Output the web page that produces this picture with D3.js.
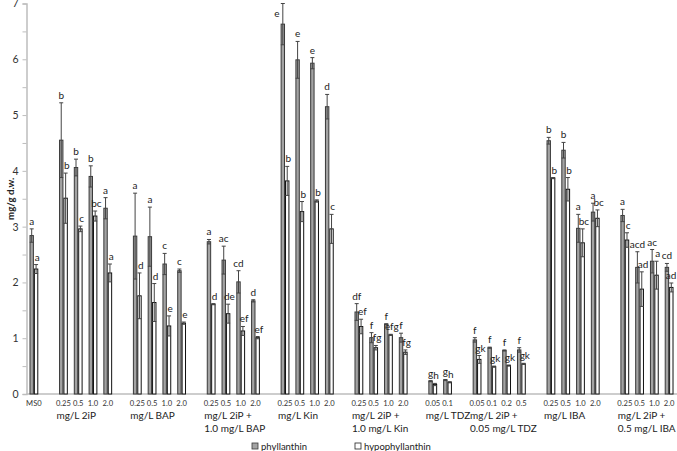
<!DOCTYPE html>
<html>
<head>
<meta charset="utf-8">
<script src="https://cdn.jsdelivr.net/npm/d3@7"></script>
<style>
  body { margin: 0; background: #fff; }
  text { font-family: Lato, "Open Sans", sans-serif; fill: #222; }
</style>
</head>
<body>
<svg id="chart" width="677" height="451"></svg>
<script>
// categories (empty strings are spacer slots between treatment groups)
const categories = ["MS0", "",
  "0.25", "0.5", "1.0", "2.0", "",
  "0.25", "0.5", "1.0", "2.0", "",
  "0.25", "0.5", "1.0", "2.0", "",
  "0.25", "0.5", "1.0", "2.0", "",
  "0.25", "0.5", "1.0", "2.0", "",
  "0.05", "0.1", "",
  "0.05", "0.1", "0.2", "0.5", "",
  "0.25", "0.5", "1.0", "2.0", "",
  "0.25", "0.5", "1.0", "2.0"];

const groupLabels = [
  {start: 2, lines: ["mg/L 2iP"]},
  {start: 7, lines: ["mg/L BAP"]},
  {start: 12, lines: ["mg/L 2iP +", "1.0 mg/L BAP"]},
  {start: 17, lines: ["mg/L Kin"]},
  {start: 22, lines: ["mg/L 2iP +", "1.0 mg/L Kin"]},
  {start: 27, lines: ["mg/L TDZ"]},
  {start: 30, lines: ["mg/L 2iP +", "0.05 mg/L TDZ"]},
  {start: 35, lines: ["mg/L IBA"]},
  {start: 40, lines: ["mg/L 2iP +", "0.5 mg/L IBA"]}
];

const seriesNames = ["phyllanthin", "hypophyllanthin"];

// null = spacer
const phyllanthin = [2.84, null,
  4.55, 4.06, 3.90, 3.33, null,
  2.83, 2.82, 2.33, 2.21, null,
  2.73, 2.40, 2.01, 1.67, null,
  6.63, 5.99, 5.93, 5.15, null,
  1.47, 1.01, 1.25, 1.01, null,
  0.23, 0.25, null,
  0.97, 0.83, 0.78, 0.79, null,
  4.54, 4.37, 2.97, 3.26, null,
  3.20, 2.27, 2.38, 2.27];
const phyllanthinErr = [0.12, null,
  0.67, 0.15, 0.19, 0.19, null,
  0.77, 0.53, 0.19, 0.03, null,
  0.04, 0.25, 0.20, 0.02, null,
  0.37, 0.33, 0.10, 0.22, null,
  0.15, 0.09, 0.01, 0.08, null,
  0.01, 0.01, null,
  0.04, 0.01, 0.01, 0.04, null,
  0.06, 0.14, 0.25, 0.16, null,
  0.11, 0.28, 0.21, 0.07];
const phyllanthinLetters = ["a", null,
  "b", "b", "b", "a", null,
  "a", "a", "c", "c", null,
  "a", "ac", "cd", "d", null,
  "e", "e", "e", "d", null,
  "df", "f", "f", "f", null,
  "g", "g", null,
  "f", "f", "f", "f", null,
  "b", "b", "a", "a", null,
  "a", "acd", "ac", "cd"];

const hypophyllanthin = [2.24, null,
  3.51, 2.96, 3.19, 2.17, null,
  1.76, 1.64, 1.22, 1.27, null,
  1.61, 1.44, 1.13, 1.01, null,
  3.82, 3.27, 3.46, 2.96, null,
  1.21, 0.83, 1.06, 0.75, null,
  0.17, 0.21, null,
  0.62, 0.49, 0.51, 0.54, null,
  3.87, 3.67, 2.71, 3.15, null,
  2.76, 1.88, 2.13, 1.91];
const hypophyllanthinErr = [0.08, null,
  0.45, 0.05, 0.09, 0.16, null,
  0.41, 0.34, 0.18, 0.02, null,
  0.01, 0.17, 0.08, 0.02, null,
  0.26, 0.18, 0.02, 0.26, null,
  0.13, 0.04, 0.01, 0.04, null,
  0.02, 0.01, null,
  0.07, 0.01, 0.01, 0.01, null,
  0.01, 0.21, 0.25, 0.15, null,
  0.13, 0.31, 0.25, 0.08];
const hypophyllanthinLetters = ["a", null,
  "b", "c", "bc", "a", null,
  "d", "d", "e", "e", null,
  "d", "de", "ef", "ef", null,
  "b", "b", "b", "c", null,
  "ef", "fg", "efg", "fg", null,
  "h", "h", null,
  "gk", "gk", "gk", "gk", null,
  "b", "b", "bc", "bc", null,
  "c", "ad", "a", "ad"];

const margin = {top: 3.5, left: 26.5, right: 0.5, bottom: 57};
const width = 677, height = 451;

const svg = d3.select("#chart");

const x0 = d3.scaleBand()
  .domain(d3.range(categories.length))
  .range([margin.left, width - margin.right])
  .padding(0);

const x1 = d3.scaleBand()
  .domain(seriesNames)
  .range([0, x0.bandwidth()])
  .paddingInner(0)
  .paddingOuter(0.68);

const y = d3.scaleLinear()
  .domain([0, 7])
  .range([height - margin.bottom, margin.top]);

// y axis
const yAxis = svg.append("g")
  .attr("transform", "translate(" + margin.left + ",0)")
  .call(d3.axisLeft(y).tickValues(d3.range(0, 7.01, 0.5)).tickSize(4)
    .tickFormat(d => Number.isInteger(d) ? d : ""));
yAxis.select(".domain").attr("stroke", "#bdbdbd").attr("stroke-width", 1.5);
yAxis.selectAll(".tick line").attr("stroke", "#bdbdbd");
yAxis.selectAll(".tick text")
  .attr("x", -8)
  .style("font-size", "10.5px")
  .style("fill", "#333");

// x axis baseline
svg.append("line")
  .attr("x1", margin.left).attr("x2", width)
  .attr("y1", y(0)).attr("y2", y(0))
  .attr("stroke", "#bdbdbd").attr("stroke-width", 1.5);

const series = [
  {name: "phyllanthin", values: phyllanthin, err: phyllanthinErr, letters: phyllanthinLetters,
    fill: "#a3a3a3", stroke: "#3a3a3a", dx: 0},
  {name: "hypophyllanthin", values: hypophyllanthin, err: hypophyllanthinErr, letters: hypophyllanthinLetters,
    fill: "#ffffff", stroke: "#111", dx: 1.2}
];

series.forEach(function (s) {
  const data = s.values.map((v, i) => ({i: i, v: v, e: s.err[i], l: s.letters[i]}))
    .filter(d => d.v !== null);
  const g = svg.append("g");
  const bx = d => x0(d.i) + x1(s.name);
  const bw = x1.bandwidth();

  g.selectAll("rect").data(data).enter().append("rect")
    .attr("x", d => bx(d) + 0.5)
    .attr("y", d => y(d.v))
    .attr("width", bw - 1)
    .attr("height", d => y(0) - y(d.v))
    .attr("fill", s.fill)
    .attr("stroke", s.stroke)
    .attr("stroke-width", 1);

  const cx = d => bx(d) + bw / 2;
  g.selectAll("line.err").data(data).enter().append("line")
    .attr("class", "err")
    .attr("x1", cx).attr("x2", cx)
    .attr("y1", d => y(d.v - d.e)).attr("y2", d => y(d.v + d.e))
    .attr("stroke", "#444").attr("stroke-width", 1);
  [1, -1].forEach(function (sign) {
    g.selectAll("line.cap" + sign).data(data).enter().append("line")
      .attr("x1", d => cx(d) - 2).attr("x2", d => cx(d) + 2)
      .attr("y1", d => y(d.v + sign * d.e)).attr("y2", d => y(d.v + sign * d.e))
      .attr("stroke", "#444").attr("stroke-width", 1);
  });

  // significance letters; if there is no room above, put the letter beside the bar
  g.selectAll("text").data(data).enter().append("text")
    .each(function (d) {
      const top = y(d.v + d.e) - 4;
      const t = d3.select(this);
      if (top < 14) {
        t.attr("x", cx(d) - 6).attr("y", 17);
      } else {
        t.attr("x", Math.min(cx(d) + s.dx, width - 6)).attr("y", top);
      }
    })
    .attr("text-anchor", "middle")
    .style("font-size", "10px")
    .text(d => d.l);
});

// category tick labels
svg.append("g").selectAll("text")
  .data(categories.map((c, i) => ({c: c, i: i})).filter(d => d.c !== ""))
  .enter().append("text")
  .attr("x", d => x0(d.i) + x0.bandwidth() / 2)
  .attr("y", 406)
  .attr("text-anchor", "middle")
  .style("font-size", "7.6px")
  .style("fill", "#333")
  .text(d => d.c);

// group labels
groupLabels.forEach(function (gl) {
  const gx = x0(gl.start) + x0.bandwidth() / 2 - 7;
  const t = svg.append("text")
    .attr("x", gx)
    .attr("y", 419)
    .style("font-size", "10px");
  gl.lines.forEach(function (ln, k) {
    t.append("tspan")
      .attr("x", gx)
      .attr("dy", k === 0 ? 0 : 13)
      .text(ln);
  });
});

// y axis title
svg.append("text")
  .attr("transform", "translate(14," + ((y(0) + y(7)) / 2) + ") rotate(-90)")
  .attr("text-anchor", "middle")
  .style("font-size", "9.7px")
  .style("font-weight", "bold")
  .text("mg/g d.w.");

// legend
const legend = [
  {name: "phyllanthin", x: 252, fill: "#a3a3a3", stroke: "#3a3a3a"},
  {name: "hypophyllanthin", x: 355, fill: "#ffffff", stroke: "#222"}
];
legend.forEach(function (l) {
  svg.append("rect")
    .attr("x", l.x).attr("y", 443)
    .attr("width", 6).attr("height", 6)
    .attr("fill", l.fill).attr("stroke", l.stroke).attr("stroke-width", 0.8);
  svg.append("text")
    .attr("x", l.x + 9).attr("y", 449.5)
    .style("font-size", "9.5px")
    .text(l.name);
});
</script>
</body>
</html>
